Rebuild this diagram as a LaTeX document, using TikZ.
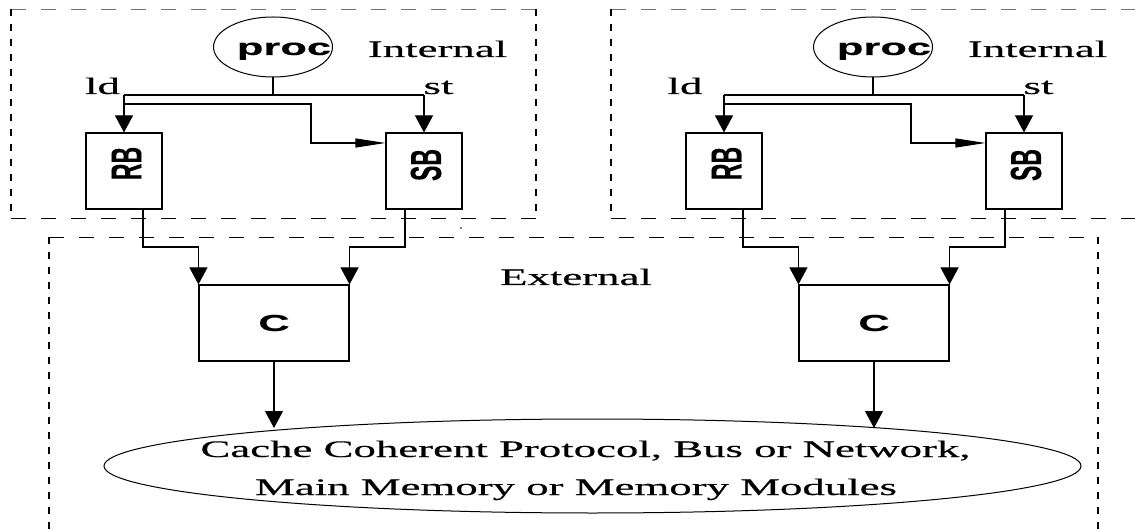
\documentclass[tikz,border=0pt]{standalone}
\usepackage{graphicx}
\usepackage{fontspec}
\setmainfont{Liberation Serif}
\setsansfont{Liberation Sans}
\newfontfamily\labelserif[FakeBold=0.35]{Liberation Serif}
\newfontfamily\labelsans[FakeBold=0.2]{Liberation Sans}
\usetikzlibrary{shapes.geometric,arrows.meta}
% the whole drawing uses wide lettering
\newcommand\widen[1]{\scalebox{1.89}[1]{#1}}
\tikzset{
  wire/.style={line width=1.1pt},
  down/.style={wire, -{Triangle[length=17pt,width=18pt]}},
  side/.style={wire, -{Triangle[length=30pt,width=9pt]}},
  unit/.style={draw, line width=1.1pt, inner sep=0pt, minimum width=76pt, minimum height=76pt},
  cache/.style={draw, line width=1.1pt, inner sep=0pt, minimum width=150pt, minimum height=76pt,
    font=\fontsize{23}{28}\selectfont\labelsans\bfseries},
  oval/.style={draw, ellipse, line width=1pt, inner sep=0pt},
  serif/.style={inner sep=0pt, anchor=base, font=\fontsize{23.7}{28}\selectfont\labelserif},
  sansb/.style={inner sep=0pt, anchor=base, font=\fontsize{23}{28}\selectfont\labelsans\bfseries},
  hdash/.style={line width=0.9pt, dash pattern=on 15pt off 15pt},
  vdash/.style={line width=1.7pt, dash pattern=on 7pt off 8pt},
}
\begin{document}
\begin{tikzpicture}[x=1pt,y=-1pt]
\useasboundingbox (0,0) rectangle (1135,529);
\clip (0,0) rectangle (1135,529);

% external region (open at the bottom)
\draw[hdash] (49,237) -- (1098,237);
\draw[vdash] (49,237) -- (49,540);
\draw[vdash] (1098,237) -- (1098,540);
\node[serif] (ext) at (576,285) {\widen{External}};
\fill (461,228) circle (0.9pt);

% shared memory system
\node[oval, minimum width=977pt, minimum height=94pt] (mem) at (592.5,466) {};
\node[serif] (mem1) at (585.5,457) {\widen{Cache Coherent Protocol, Bus or Network,}};
\node[serif] (mem2) at (576,495) {\widen{Main Memory or Memory Modules}};

% one processor with its buffers and cache, twice
\foreach \s/\o/\ldx/\rx in {L/0/102.5/536, R/600/85/545}{
\begin{scope}[xshift=\o pt]
  % internal region
  \draw[hdash, draw=black!55] (11,9.5) -- (\rx,9.5);
  \draw[hdash] (11,218) -- (\rx,218);
  \draw[vdash] (11,9.5) -- (11,218);
  \draw[vdash] (\rx,9.5) -- (\rx,218);

  \node[oval, minimum width=119pt, minimum height=60pt] (proc\s) at (273,47) {};
  \node[sansb] (proct\s) at (284,55) {\widen{proc}};
  \node[serif] (int\s) at (437.5,57) {\widen{Internal}};
  \node[serif] (ld\s) at (\ldx,94) {\widen{ld}};
  \node[serif] (st\s) at (438.5,94) {\widen{st}};

  \node[unit] (RB\s) at (124,171) {};
  \node[unit] (SB\s) at (424,171) {};
  \node[sansb, anchor=center] (RBt\s) at (126.5,163.5) {\widen{\rotatebox{90}{RB}}};
  \node[sansb, anchor=center] (SBt\s) at (426,165) {\widen{\rotatebox{90}{SB}}};
  \node[cache] (C\s) at (274,323) {\widen{C}};

  \coordinate (j\s) at (273,95);
  \draw[wire] (proc\s.south) -- (j\s);
  \draw[wire] (RB\s.north |- j\s) -- (SB\s.north |- j\s);
  \draw[down] (RB\s.north |- j\s) -- (RB\s.north);
  \draw[down] (SB\s.north |- j\s) -- (SB\s.north);
  \draw[side] (RB\s.north |- 0,104) -- (311,104) -- (311,143) -- (SB\s.west |- 0,143);

  \draw[down] (RB\s.south -| 143,0) -- (143,247) -- (C\s.north west |- 0,247) -- (C\s.north west);
  \draw[down] (SB\s.south -| 405,0) -- (405,247) -- (C\s.north east |- 0,247) -- (C\s.north east);
  \draw[down] (C\s.south) -- (C\s.south |- 0,428);
\end{scope}}
\end{tikzpicture}
\end{document}
